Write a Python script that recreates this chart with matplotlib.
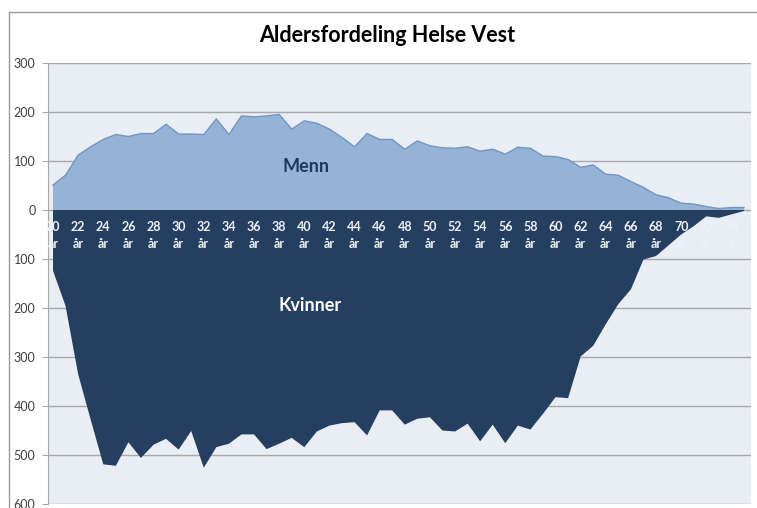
import matplotlib
matplotlib.use("Agg")
import matplotlib.pyplot as plt
from matplotlib.lines import Line2D
from matplotlib.ticker import FixedLocator, FuncFormatter
import numpy as np

plt.rcParams['font.family'] = ['Lato', 'DejaVu Sans']

ages = list(range(20, 76))
menn = [51, 71, 112, 129, 144, 154, 150, 156, 156, 175,
        155, 155, 154, 186, 154, 192, 190, 192, 195, 165,
        182, 177, 165, 148, 129, 156, 144, 144, 124, 141,
        131, 127, 126, 129, 120, 124, 114, 128, 126, 110,
        109, 103, 87, 92, 73, 71, 58, 46, 31, 25,
        14, 12, 7, 3, 5, 5]
kvinner = [124, 196, 335, 428, 519, 522, 474, 506, 479, 467,
           489, 451, 526, 484, 477, 458, 458, 488, 477, 465,
           484, 452, 440, 435, 433, 460, 409, 409, 438, 426,
           423, 450, 452, 436, 472, 438, 476, 440, 448, 416,
           382, 384, 299, 277, 233, 192, 162, 101, 94, 72,
           50, 33, 13, 16, 9, 2]
label_ages = ages[::2]
title = "Aldersfordeling Helse Vest"
ytick_vals = [300, 200, 100, 0, -100, -200, -300, -400, -500, -600]

W, H = 757, 508
fig = plt.figure(figsize=(W / 100, H / 100), dpi=100)
fig.patch.set_facecolor('white')

# outer chart border (top and left edges only are visible)
fig.lines.append(Line2D([9 / W, 1.0], [1 - 12 / H, 1 - 12 / H], transform=fig.transFigure,
                        color='#9a9a9a', linewidth=1.0))
fig.lines.append(Line2D([9 / W, 9 / W], [0.0, 1 - 12 / H], transform=fig.transFigure,
                        color='#9a9a9a', linewidth=1.0))

left, right, top, bottom = 48, 751, 63, 504
ax = fig.add_axes([left / W, (H - bottom) / H, (right - left) / W, (bottom - top) / H])
ax.set_facecolor('#e9edf4')

x = np.array(ages)
ax.fill_between(x, 0, np.array(menn), facecolor='#95b3d7', edgecolor='none', zorder=2)
ax.plot(x, menn, color='#7594bd', linewidth=1.0, zorder=2.2)
ax.fill_between(x, 0, -np.array(kvinner), facecolor='#243f60', edgecolor='none', zorder=2.1)

ax.set_xlim(19.6, 75.56)
ax.set_ylim(-600, 300)
ax.yaxis.set_major_locator(FixedLocator(ytick_vals))
ax.yaxis.set_major_formatter(FuncFormatter(lambda v, p: f"{abs(int(round(v)))}"))
ax.grid(axis='y', color='#a8a8a8', linewidth=1.0, zorder=1)
ax.set_axisbelow(True)
ax.set_xticks([])
ax.tick_params(axis='y', length=4, color='#a8a8a8', labelsize=9, labelcolor='#404040', pad=5)
for s in ['top', 'right', 'bottom']:
    ax.spines[s].set_visible(False)
ax.spines['left'].set_color('#a8a8a8')

for a in label_ages:
    ax.annotate(f"{a}\når", xy=(a, 0), xytext=(0, -8), textcoords='offset points',
                ha='center', va='top', fontsize=9, fontweight='bold', color='#eef2f8',
                linespacing=1.5, zorder=6, annotation_clip=False)

ax.text(40.1, 88, "Menn", ha='center', va='center', fontsize=13, fontweight='bold',
        color='#1f3a60', zorder=7)
ax.text(40.5, -194, "Kvinner", ha='center', va='center', fontsize=13, fontweight='bold',
        color='white', zorder=7)

fig.text(387 / W, 1 - 35 / H, title, ha='center', va='center', fontsize=15.5,
         fontweight='bold', color='black')

fig.savefig('out.png', dpi=100)
